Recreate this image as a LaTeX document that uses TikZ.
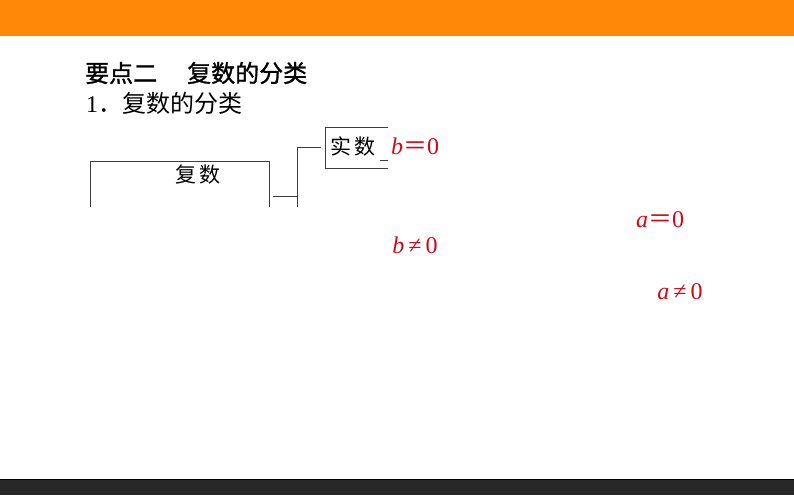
\documentclass[tikz,border=0pt]{standalone}
\usepackage{fontspec}
\setmainfont{Liberation Serif}
\newfontfamily\cjk{Noto Sans CJK SC}
\newfontfamily\cjkhead[FakeBold=1.2]{Noto Sans CJK SC}
\definecolor{barorange}{RGB}{255,136,8}
\definecolor{bardark}{RGB}{40,40,40}
\definecolor{linegray}{RGB}{60,60,60}
\definecolor{condred}{RGB}{200,12,28}

\begin{document}
\begin{tikzpicture}[x=1pt,y=-1pt,
  frame/.style={draw=linegray,line width=0.9pt},
  head/.style={anchor=west,inner sep=0pt,font=\cjk\fontsize{24}{24}\selectfont},
  label/.style={inner sep=0pt,font=\cjk\fontsize{21}{21}\selectfont},
  cond/.style={inner sep=0pt,text=condred,font=\fontsize{24}{24}\selectfont}]
\useasboundingbox (0,0) rectangle (794,495);
% bars
\fill[barorange] (0,0) rectangle (794,36);
\fill[bardark] (0,479) rectangle (794,495);
\draw[black,line width=1pt] (0,479.5) -- (794,479.5);

% headings
\node[head,font=\cjkhead\fontsize{24}{24}\selectfont] (title) at (85,73) {要点二\hspace{30pt}复数的分类};
\node[head] (sub) at (86,103) {{\rmfamily 1}．复数的分类};

% left box
\node[label] (fushu) at (198,175) {复\hspace{3pt}数};
\draw[frame] (90,207) -- (90,161) -- (269,161) -- (269,207);

% branch
\coordinate (root) at (273,196);
\coordinate (fork) at (297,196);
\coordinate (forktop) at (297,147);
\coordinate (forkend) at (297,207);
\coordinate (real) at (321,147);
\draw[frame] (root) -- (fork);
\draw[frame] (forkend) -- (forktop) -- (real);

% real box
\node[label] (shishu) at (353,146) {实\hspace{3pt}数};
\draw[frame] (388,127) -- (325,127) -- (325,168) -- (388,168);
\draw[frame] (380,160) -- (388,160);

% conditions
\node[cond] (b0) at (415,146) {{\itshape b}{\cjk ＝}0};
\node[cond] (a0) at (660,220) {{\itshape a}{\cjk ＝}0};
\node[cond] (bn0) at (415,245) {{\itshape b}\,≠\,0};
\node[cond] (an0) at (680,292) {{\itshape a}\,≠\,0};
\end{tikzpicture}
\end{document}
